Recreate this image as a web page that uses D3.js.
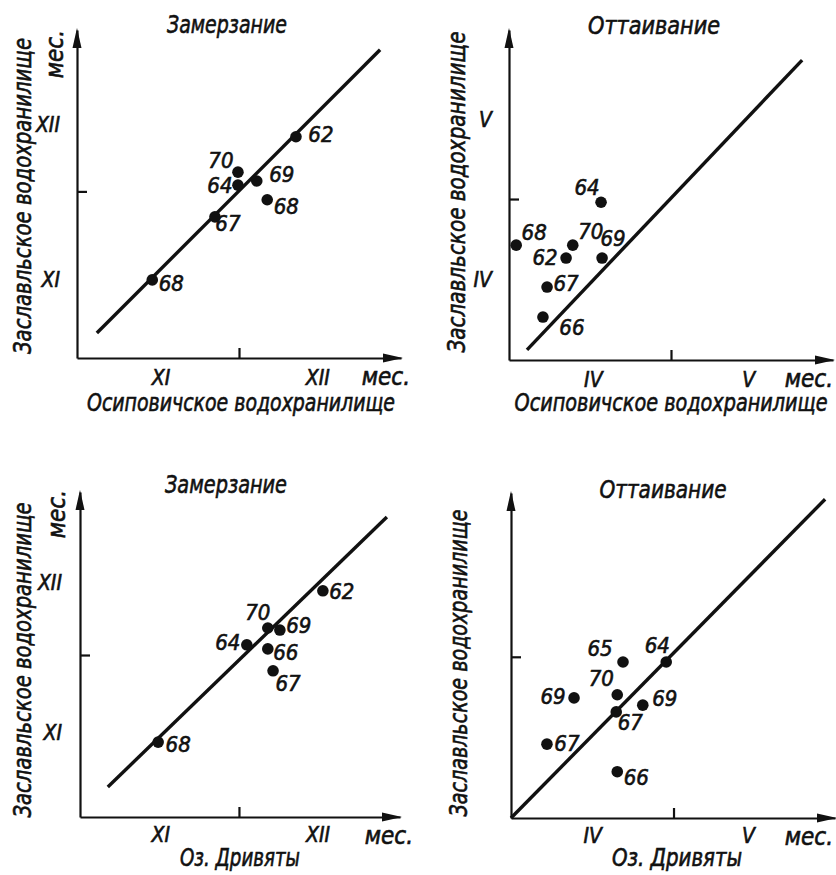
<!DOCTYPE html>
<html>
<head>
<meta charset="utf-8">
<script src="https://cdn.jsdelivr.net/npm/d3@7/dist/d3.min.js"></script>
<style>
    body { margin: 0; background: #fff; }
    svg text {
        font-family: "DejaVu Sans Condensed", "DejaVu Sans", sans-serif;
        font-style: italic;
        fill: #111;
        stroke: #111;
        stroke-width: 0.6px;
    }
</style>
</head>
<body>
<script>
    /*
     * values are days counted from the 1st of the first month
     * (XI for freezing, IV for thawing); 30 = 1st of the next month
     */

    // freezing: Osipovichi reservoir (x) vs Zaslavl reservoir (y)
    var freezeOsipYears = ["62", "70", "64", "69", "68", "67", "68"];
    var freezeOsipX     = [40.9, 29.8, 29.8, 33.4, 35.4, 25.4, 13.4];
    var freezeOsipY     = [40.5, 33.7, 31.2, 32.0, 28.4, 25.1, 13.0];
    var freezeOsipLine  = [[2.8, 2.8], [57.0, 57.2]];

    // thawing: Osipovichi reservoir (x) vs Zaslavl reservoir (y)
    var thawOsipYears = ["64", "68", "70", "62", "69", "67", "66"];
    var thawOsipX     = [16.4, -0.1, 10.9, 9.6, 16.6, 5.9, 5.1];
    var thawOsipY     = [29.4, 21.4, 21.4, 19.0, 19.0, 13.6, 8.0];
    var thawOsipLine  = [[2.0, 1.9], [55.5, 55.9]];

    // freezing: lake Drivyaty (x) vs Zaslavl reservoir (y)
    var freezeDrivYears = ["62", "70", "69", "64", "66", "67", "68"];
    var freezeDrivX     = [46.0, 35.5, 37.8, 31.5, 35.5, 36.5, 14.6];
    var freezeDrivY     = [42.6, 35.3, 34.9, 32.0, 31.2, 26.9, 12.9];
    var freezeDrivLine  = [[5.0, 4.1], [58.2, 57.1]];

    // thawing: lake Drivyaty (x) vs Zaslavl reservoir (y)
    var thawDrivYears = ["65", "64", "70", "69", "69", "67", "67", "66"];
    var thawDrivX     = [20.3, 28.6, 19.2, 10.9, 24.1, 19.0, 5.7, 19.2];
    var thawDrivY     = [29.0, 29.0, 22.7, 22.1, 20.7, 19.4, 13.2, 7.9];
    var thawDrivLine  = [[-1.2, -1.0], [59.1, 60.3]];

    // month tick labels and where they sit (day value)
    var freezeMonths = ["XI", "XII"];
    var thawMonths   = ["IV", "V"];
    var freezeOsipMonthX = [15, 45],  freezeOsipMonthY = [13, 42.8];
    var thawOsipMonthX   = [14.8, 45], thawOsipMonthY   = [14.9, 44.7];
    var freezeDrivMonthX = [15, 45],  freezeDrivMonthY = [14.7, 44.1];
    var thawDrivMonthX   = [14.4, 44.3], thawDrivMonthY  = [];

    var monthBoundary = 30;

    // label offsets from the dot (layout only)
    var offs1 = [[25, -2], [-17, -12], [-18, 0], [25, -6], [19, 7], [13, 7], [19, 4]];
    var offs2 = [[-14, -15], [18, -13], [18, -14], [-21, -1], [11, -20], [19, -4], [29, 10]];
    var offs3 = [[19, 1], [-10, -16], [19, -5], [-19, -2], [18, 4], [15, 13], [20, 2]];
    var offs4 = [[-23, -14], [-9, -17], [-16, -16], [-21, -1], [22, -7], [14, 11], [20, -1], [19, 6]];

    var yTitle = "Заславльское водохранилище";

    var panels = [
        {
            title: "Замерзание", titleAt: [227, 24, 120],
            xTitle: "Осиповичское водохранилище", xTitleAt: [241, 403, 308],
            yTitleAt: [23, 196, 316], yUnitAt: [55, 30],
            xDomain: [-1, 61], xRange: [77, 401], yDomain: [-2, 61], yRange: [358, 30],
            years: freezeOsipYears, xs: freezeOsipX, ys: freezeOsipY, line: freezeOsipLine,
            months: freezeMonths, monthX: freezeOsipMonthX, monthY: freezeOsipMonthY,
            padX: 12, padY: 17, unitX: 410, offs: offs1
        },
        {
            title: "Оттаивание", titleAt: [654, 25, 132],
            xTitle: "Осиповичское водохранилище", xTitleAt: [671, 403, 313],
            yTitleAt: [457, 192, 321], yUnitAt: null,
            xDomain: [-1.5, 61.5], xRange: [509, 833], yDomain: [0, 61.5], yRange: [360, 30],
            years: thawOsipYears, xs: thawOsipX, ys: thawOsipY, line: thawOsipLine,
            months: thawMonths, monthX: thawOsipMonthX, monthY: thawOsipMonthY,
            padX: 12, padY: 17, unitX: 833, offs: offs2
        },
        {
            title: "Замерзание", titleAt: [226, 484, 122],
            xTitle: "Оз. Дривяты", xTitleAt: [240, 858, 120],
            yTitleAt: [23, 660, 315], yUnitAt: [57, 490],
            xDomain: [-0.3, 60.7], xRange: [80, 400], yDomain: [-1.8, 62], yRange: [817, 492],
            years: freezeDrivYears, xs: freezeDrivX, ys: freezeDrivY, line: freezeDrivLine,
            months: freezeMonths, monthX: freezeDrivMonthX, monthY: freezeDrivMonthY,
            padX: 10, padY: 18, unitX: 413, offs: offs3
        },
        {
            title: "Оттаивание", titleAt: [663, 489, 127],
            xTitle: "Оз. Дривяты", xTitleAt: [677, 858, 130],
            yTitleAt: [459, 663, 307], yUnitAt: null,
            xDomain: [-1.2, 61], xRange: [511, 835], yDomain: [-1, 61.5], yRange: [818, 493],
            years: thawDrivYears, xs: thawDrivX, ys: thawDrivY, line: thawDrivLine,
            months: thawMonths, monthX: thawDrivMonthX, monthY: thawDrivMonthY,
            padX: 10, padY: 17, unitX: 833, offs: offs4
        }
    ];

    var svg = d3.select("body")
        .append("svg")
        .attr("width", 836)
        .attr("height", 875);

    panels.forEach(function (p) { drawPanel(svg, p); });

    function drawPanel(svg, p) {
        var x = d3.scaleLinear().domain(p.xDomain).range(p.xRange);
        var y = d3.scaleLinear().domain(p.yDomain).range(p.yRange);
        var x0 = p.xRange[0], x1 = p.xRange[1];
        var y0 = p.yRange[0], y1 = p.yRange[1];
        var g = svg.append("g");

        // axes: a single inward tick on the month boundary
        g.append("g")
            .attr("transform", "translate(0," + y0 + ")")
            .call(d3.axisBottom(x).tickValues([monthBoundary]).tickSize(-10)
                .tickSizeOuter(0).tickFormat(""));
        g.append("g")
            .attr("transform", "translate(" + x0 + ",0)")
            .call(d3.axisLeft(y).tickValues([monthBoundary]).tickSize(-10)
                .tickSizeOuter(0).tickFormat(""));
        g.selectAll(".domain, .tick line")
            .attr("stroke", "#111")
            .attr("stroke-width", 2.2);

        // arrow heads
        g.append("path")
            .attr("d", "M" + (x1 + 2) + "," + y0 + "L" + (x1 - 18) + "," + (y0 - 4.5) +
                "L" + (x1 - 18) + "," + (y0 + 4.5) + "Z")
            .attr("fill", "#111");
        g.append("path")
            .attr("d", "M" + x0 + "," + (y1 - 2) + "L" + (x0 - 4.5) + "," + (y1 + 18) +
                "L" + (x0 + 4.5) + "," + (y1 + 18) + "Z")
            .attr("fill", "#111");

        // month names between the ticks
        var mx = g.append("g")
            .attr("transform", "translate(0," + y0 + ")")
            .call(d3.axisBottom(x).tickValues(p.monthX)
                .tickFormat(function (d, i) { return p.months[i]; })
                .tickSize(0).tickPadding(p.padX));
        var my = g.append("g")
            .attr("transform", "translate(" + x0 + ",0)")
            .call(d3.axisLeft(y).tickValues(p.monthY)
                .tickFormat(function (d, i) { return p.months[i]; })
                .tickSize(0).tickPadding(p.padY));
        [mx, my].forEach(function (a) {
            a.select(".domain").remove();
            a.attr("font-family", null).attr("font-size", null);
            a.selectAll("text").style("font-size", "21px");
        });

        // "мес." units
        g.append("text")
            .attr("x", p.unitX).attr("y", y0 + 27)
            .attr("text-anchor", "end")
            .style("font-size", "24px")
            .text("мес.");
        if (p.yUnitAt) {
            g.append("text")
                .attr("transform", "translate(" + p.yUnitAt[0] + "," + p.yUnitAt[1] + ") rotate(-90)")
                .attr("text-anchor", "end")
                .attr("dy", "0.35em")
                .style("font-size", "24px")
                .text("мес.");
        }

        // titles
        g.append("text")
            .attr("x", p.titleAt[0]).attr("y", p.titleAt[1])
            .attr("text-anchor", "middle").attr("dominant-baseline", "central")
            .attr("textLength", p.titleAt[2]).attr("lengthAdjust", "spacingAndGlyphs")
            .style("font-size", "25px")
            .text(p.title);
        g.append("text")
            .attr("x", p.xTitleAt[0]).attr("y", p.xTitleAt[1])
            .attr("text-anchor", "middle").attr("dominant-baseline", "central")
            .attr("textLength", p.xTitleAt[2]).attr("lengthAdjust", "spacingAndGlyphs")
            .style("font-size", "24px")
            .text(p.xTitle);
        g.append("text")
            .attr("transform", "translate(" + p.yTitleAt[0] + "," + p.yTitleAt[1] + ") rotate(-90)")
            .attr("text-anchor", "middle").attr("dominant-baseline", "central")
            .attr("textLength", p.yTitleAt[2]).attr("lengthAdjust", "spacingAndGlyphs")
            .style("font-size", "24px")
            .text(yTitle);

        // the 1:1 line
        g.append("path")
            .datum(p.line)
            .attr("fill", "none")
            .attr("stroke", "#111")
            .attr("stroke-width", 3.4)
            .attr("d", d3.line().x(function (d) { return x(d[0]); }).y(function (d) { return y(d[1]); }));

        // points + year labels
        var pts = p.years.map(function (yr, i) { return { yr: yr, x: p.xs[i], y: p.ys[i], o: p.offs[i] }; });
        g.selectAll("circle.pt")
            .data(pts)
            .enter().append("circle")
            .attr("class", "pt")
            .attr("cx", function (d) { return x(d.x); })
            .attr("cy", function (d) { return y(d.y); })
            .attr("r", 5.8)
            .attr("fill", "#111");
        g.selectAll("text.yr")
            .data(pts)
            .enter().append("text")
            .attr("class", "yr")
            .attr("x", function (d) { return x(d.x) + d.o[0]; })
            .attr("y", function (d) { return y(d.y) + d.o[1]; })
            .attr("text-anchor", "middle")
            .attr("dominant-baseline", "central")
            .style("font-size", "22px")
            .text(function (d) { return d.yr; });
    }
</script>
</body>
</html>
